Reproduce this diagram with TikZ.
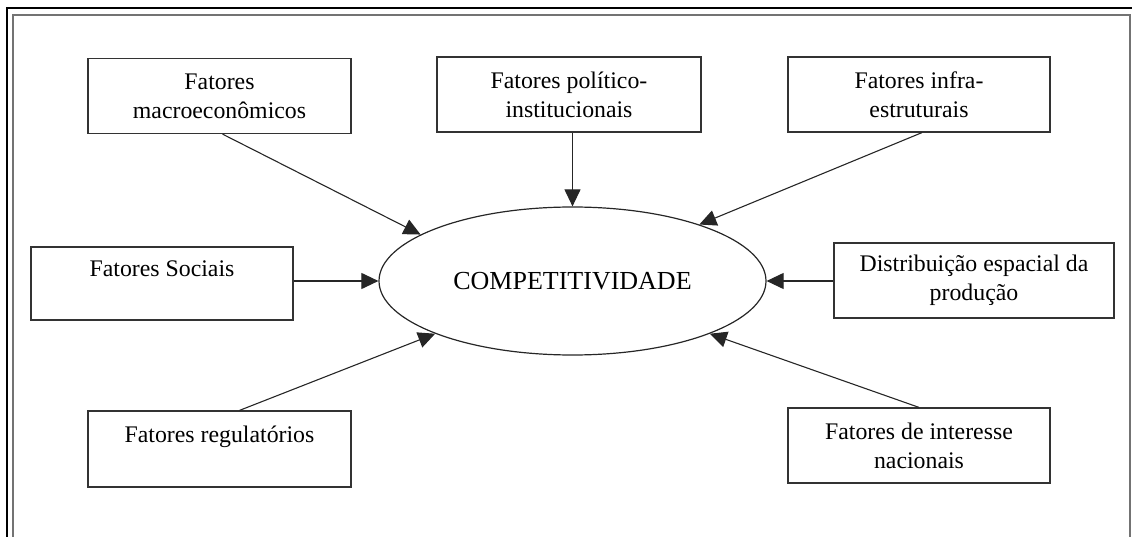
\documentclass[tikz,border=0pt]{standalone}
\usepackage{fontspec}
\setmainfont{Liberation Serif}
\usetikzlibrary{shapes.geometric,arrows.meta,calc}
\begin{document}
\begin{tikzpicture}[x=1pt,y=-1pt,
  factor/.style={draw=black!80, line width=1.2pt, rectangle, minimum width=263pt,
    minimum height=75pt, inner sep=0pt, align=center,
    font=\fontsize{23.8}{29}\selectfont},
  core/.style={draw=black!85, line width=1.2pt, ellipse, minimum width=387pt,
    minimum height=148pt, inner sep=0pt, font=\fontsize{26}{30}\selectfont},
  link/.style={draw=black!85, line width=1.1pt, -{Triangle[length=17pt,width=16pt]}},
  outerframe/.style={draw=black, line width=1.3pt},
  innerframe/.style={draw=black!55, line width=1.6pt},
]
\useasboundingbox (0,0) rectangle (1132,537);

% page frame
\draw[outerframe] (7,537) -- (7,8) -- (1132,8);
\draw[innerframe] (13,537) -- (13,15) -- (1130,15) -- (1130,537);

% central concept
\node[core] (c) at (572.5,281) {COMPETITIVIDADE};

% surrounding factors
\node[factor] (m) at (219.5,96) {Fatores\\macroeconômicos};
\node[factor, minimum width=264pt] (p) at (569,94.5) {Fatores político-\\institucionais};
\node[factor, minimum width=262pt] (i) at (919,94.5) {Fatores infra-\\estruturais};
\node[factor, minimum width=262pt, minimum height=73pt] (s) at (162,283.5) {Fatores Sociais\\\mbox{}};
\node[factor, minimum width=280pt] (d) at (974,280.5) {Distribuição espacial da\\produção};
\node[factor, minimum height=76pt] (r) at (219.5,449) {Fatores regulatórios\\\mbox{}};
\node[factor, minimum width=262pt] (n) at (919,445.5) {Fatores de interesse\\nacionais};

% influences on competitiveness
\draw[link] ($(m.south)+(3,0)$) -- (c.163);
\draw[link] (c.north |- p.south) -- (c.north);
\draw[link] ($(i.south)+(3,0)$) -- (c.24);
\draw[link] (s.east |- c.west) -- (c.west);
\draw[link] (d.west |- c.east) -- (c.east);
\draw[link] ($(r.north)+(20,0)$) -- (c.201);
\draw[link] (n.north) -- (c.339);
\end{tikzpicture}
\end{document}
